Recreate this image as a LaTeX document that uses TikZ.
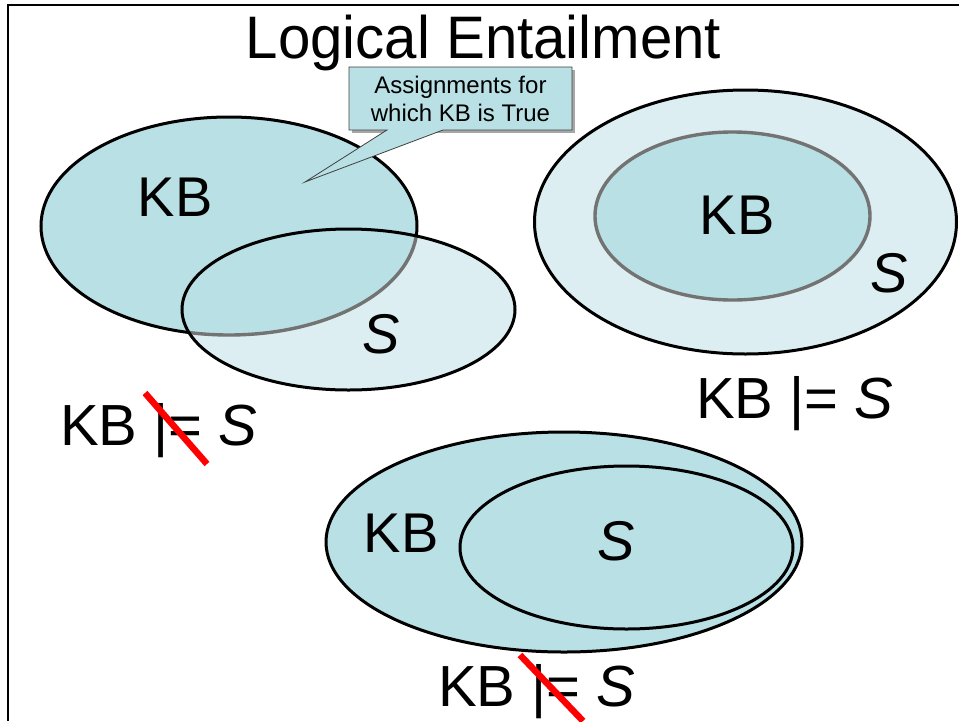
\documentclass[tikz,border=0pt]{standalone}
\usepackage{fontspec}
\setmainfont{Liberation Sans}
\begin{document}
\begin{tikzpicture}[x=1pt,y=-1pt]
\definecolor{kbfill}{HTML}{B9E0E4}
\definecolor{sfill}{HTML}{DCEEF1}
\tikzset{
  outline/.style={draw=black, line width=3pt},
  rim/.style={draw=black!55, line width=3.4pt},
  setlabel/.style={inner sep=0pt, font=\fontsize{56}{66}\selectfont},
  relation/.style={inner sep=0pt, anchor=base west, font=\fontsize{58}{68}\selectfont},
  strike/.style={draw=red, line width=6.5pt},
  callout/.style={fill=kbfill, draw=black!75, line width=0.8pt},
}
\useasboundingbox (0,0) rectangle (959,721);

% slide frame
\draw[line width=2.2pt] (959,5) -- (8,5) -- (8,721);

% title
\node[inner sep=0pt, anchor=base, font=\fontsize{60}{72}\selectfont, xscale=0.97]
  (title) at (483.5,58) {Logical Entailment};

% ---------- overlapping KB and S ----------
\def\kbA{(229,226) ellipse [x radius=188, y radius=109]}
\def\sA{(348.5,309.5) ellipse [x radius=166.5, y radius=80.5]}
\fill[sfill] \sA;
\fill[kbfill] \kbA;
\begin{scope}[even odd rule]
  \clip (0,0) rectangle (959,721) \sA;
  \draw[outline] \kbA;
\end{scope}
\begin{scope}
  \clip \sA;
  \draw[rim] \kbA;
\end{scope}
\draw[outline] \sA;

\node[setlabel] (kbA) at (175,197) {KB};
\node[setlabel] (sA) at (381,334) {\textit{S}};

% callout with pointer
\fill[black!35] (352,70) -- (575,70) -- (575,133) -- (352,133) -- cycle;
\draw[callout] (349,67) -- (572,67) -- (572,130) -- (443,130) -- (305,182)
  -- (387,130) -- (349,130) -- cycle;
\node[inner sep=0pt, align=center, font=\fontsize{24}{27.5}\selectfont]
  (note) at (460.5,99) {Assignments for\\which KB is True};

% ---------- KB inside S ----------
\def\sB{(745.5,222) ellipse [x radius=211, y radius=132]}
\def\kbB{(732.5,216) ellipse [x radius=137.5, y radius=84]}
\filldraw[fill=sfill, outline] \sB;
\fill[kbfill] \kbB;
\draw[rim] \kbB;
\node[setlabel] (kbB) at (737,215) {KB};
\node[setlabel] (sB) at (889,273) {\textit{S}};

% ---------- S inside KB ----------
\def\kbC{(564,542) ellipse [x radius=238, y radius=110]}
\def\sC{(626.5,547.5) ellipse [x radius=166.5, y radius=81.5]}
\filldraw[fill=kbfill, outline] \kbC;
\draw[outline] \sC;
\node[setlabel] (kbC) at (401,533) {KB};
\node[setlabel] (sC) at (616,541) {\textit{S}};

% ---------- entailment statements ----------
\node[relation] (relA) at (60,445) {KB |= \textit{S}};
\node[relation] (relB) at (696,418) {KB |= \textit{S}};
\node[relation] (relC) at (438,706) {KB |= \textit{S}};

\coordinate (xA1) at (145,393);
\coordinate (xA2) at (207,464);
\coordinate (xC1) at (520,655);
\coordinate (xC2) at (583,721);
\draw[strike] (xA1) -- (xA2);
\draw[strike] (xC1) -- (xC2);
\end{tikzpicture}
\end{document}
